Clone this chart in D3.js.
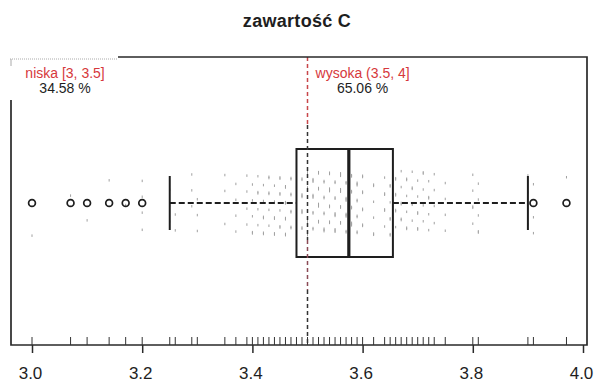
<!DOCTYPE html>
<html>
<head>
<meta charset="utf-8">
<script src="https://cdn.jsdelivr.net/npm/d3@7"></script>
<style>
  html, body { margin: 0; padding: 0; background: #fff; }
  svg { display: block; font-family: "Liberation Sans", Arial, Helvetica, sans-serif; }
</style>
</head>
<body>
<svg id="chart" width="595" height="385"></svg>
<script>
// Carbon content (zawartość C): boxplot summary, rug and jittered observations
const title = "zawartość C";
const axisTicks = [3.0, 3.2, 3.4, 3.6, 3.8, 4.0];
const threshold = 3.5;

// Five-number summary of the boxplot
const boxStats = { whiskerLow: 3.25, q1: 3.48, median: 3.575, q3: 3.655, whiskerHigh: 3.90 };
const outliers = [3.00, 3.07, 3.10, 3.14, 3.17, 3.20, 3.91, 3.97];

// Distinct measured values (rug) and how many observations share each value
const rugValues = [3.00, 3.07, 3.10, 3.14, 3.17, 3.20, 3.25, 3.26, 3.29, 3.30,
  3.35, 3.37, 3.39, 3.40, 3.41, 3.42, 3.43, 3.44, 3.45, 3.46, 3.47, 3.48, 3.49,
  3.50, 3.51, 3.52, 3.53, 3.54, 3.55, 3.56, 3.57, 3.58, 3.59, 3.60, 3.62, 3.64,
  3.65, 3.66, 3.67, 3.68, 3.69, 3.70, 3.71, 3.72, 3.73, 3.75, 3.80, 3.81, 3.90,
  3.91, 3.97];
const rugCounts = [1, 1, 1, 1, 1, 4, 3, 2, 3, 3,
  3, 4, 4, 5, 5, 6, 6, 7, 7, 8, 8, 9, 10,
  10, 10, 9, 9, 9, 10, 10, 10, 9, 9, 8, 6, 6,
  7, 7, 6, 6, 6, 6, 5, 5, 4, 4, 5, 5, 4,
  3, 1];

// Share of observations in each class
const classLabels = ["niska [3, 3.5]", "wysoka (3.5, 4]"];
const classShares = [34.58, 65.06];

const svg = d3.select("#chart");
const frame = { left: 11, right: 587, top: 57, bottom: 345 };

const x = d3.scaleLinear().domain([3, 4]).range([32, 583]);
// vertical position: box drawn around level 1
const y = d3.scaleLinear().domain([0, 2]).range([338, 68]);
const boxHalf = 0.4, capHalf = 0.2, jitterHalf = 0.24;

const ink = "#1e1e1e";

// title
svg.append("text")
  .attr("x", 297).attr("y", 27)
  .attr("text-anchor", "middle")
  .attr("font-size", 18).attr("font-weight", "bold")
  .attr("letter-spacing", 0.3)
  .attr("fill", ink)
  .text(title);

// jittered observations (faint marks)
const jitterPts = [];
rugValues.forEach((v, i) => {
  const c = rugCounts[i];
  for (let j = 0; j < c; j++) {
    const u = ((i * 0.618034 + j * 0.754877) % 1) * 2 - 1;
    jitterPts.push({ v, off: u * jitterHalf });
  }
});
svg.append("g").selectAll("rect").data(jitterPts).join("rect")
  .attr("x", d => x(d.v) - 0.5)
  .attr("y", d => y(1 + d.off) - 1)
  .attr("width", 1).attr("height", 2.5)
  .attr("fill", "#a0a0a0");

// whiskers (dashed)
const wg = svg.append("g");
wg.append("line")
  .attr("x1", x(boxStats.whiskerLow)).attr("x2", x(boxStats.q1))
  .attr("y1", y(1)).attr("y2", y(1))
  .attr("stroke", ink).attr("stroke-width", 2).attr("stroke-dasharray", "6,3");
wg.append("line")
  .attr("x1", x(boxStats.q3)).attr("x2", x(boxStats.whiskerHigh))
  .attr("y1", y(1)).attr("y2", y(1))
  .attr("stroke", ink).attr("stroke-width", 2).attr("stroke-dasharray", "6,3");
[boxStats.whiskerLow, boxStats.whiskerHigh].forEach(v => {
  wg.append("line")
    .attr("x1", x(v)).attr("x2", x(v))
    .attr("y1", y(1 + capHalf)).attr("y2", y(1 - capHalf))
    .attr("stroke", ink).attr("stroke-width", 2);
});

// box and median
svg.append("rect")
  .attr("x", x(boxStats.q1)).attr("y", y(1 + boxHalf))
  .attr("width", x(boxStats.q3) - x(boxStats.q1))
  .attr("height", y(1 - boxHalf) - y(1 + boxHalf))
  .attr("fill", "none").attr("stroke", ink).attr("stroke-width", 2);
svg.append("line")
  .attr("x1", x(boxStats.median)).attr("x2", x(boxStats.median))
  .attr("y1", y(1 + boxHalf)).attr("y2", y(1 - boxHalf))
  .attr("stroke", ink).attr("stroke-width", 3.2);

// outliers
svg.append("g").selectAll("circle").data(outliers).join("circle")
  .attr("cx", d => x(d)).attr("cy", y(1))
  .attr("r", 3.4)
  .attr("fill", "none").attr("stroke", ink).attr("stroke-width", 1.7);

// legend box behind the left class label
svg.append("rect")
  .attr("x", frame.left - 1).attr("y", frame.top + 1)
  .attr("width", 108).attr("height", 42)
  .attr("fill", "#fff");
svg.append("line")
  .attr("x1", frame.left - 1).attr("x2", frame.left + 107)
  .attr("y1", frame.top + 2).attr("y2", frame.top + 2)
  .attr("stroke", "#aaa").attr("stroke-width", 1).attr("stroke-dasharray", "1,1");

// threshold line at 3.5
const tx = x(threshold);
const thrSegments = [
  { y1: frame.top, y2: 125, color: "#c8464a" },
  { y1: 125, y2: 240, color: "#333" },
  { y1: 240, y2: 290, color: "#8a4a55" },
  { y1: 290, y2: frame.bottom, color: "#333" }
];
svg.append("g").selectAll("line").data(thrSegments).join("line")
  .attr("x1", tx).attr("x2", tx)
  .attr("y1", d => d.y1).attr("y2", d => d.y2)
  .attr("stroke", d => d.color).attr("stroke-width", 1.5)
  .attr("stroke-dasharray", "4,3");

// class labels
const labelPos = [x(3.06), x(3.6)];
classLabels.forEach((lab, i) => {
  svg.append("text")
    .attr("x", labelPos[i]).attr("y", 78)
    .attr("text-anchor", "middle").attr("font-size", 14)
    .attr("fill", "#d6383c").text(lab);
  svg.append("text")
    .attr("x", labelPos[i]).attr("y", 93)
    .attr("text-anchor", "middle").attr("font-size", 14)
    .attr("fill", ink).text(classShares[i].toFixed(2) + " %");
});

// plot frame
svg.append("path")
  .attr("d", `M${frame.left},${frame.top + 43}V${frame.bottom}H${frame.right}V${frame.top}H${frame.left + 107}`)
  .attr("fill", "none").attr("stroke", "#2a2a2a").attr("stroke-width", 1.7);
svg.append("line")
  .attr("x1", frame.left).attr("x2", frame.left)
  .attr("y1", frame.top + 2).attr("y2", frame.top + 9)
  .attr("stroke", "#aaa").attr("stroke-width", 1);

// rug
svg.append("g").selectAll("line").data(rugValues).join("line")
  .attr("x1", d => x(d)).attr("x2", d => x(d))
  .attr("y1", frame.bottom - 8).attr("y2", frame.bottom)
  .attr("stroke", "#333").attr("stroke-width", 1);

// x axis
const axis = d3.axisBottom(x)
  .tickValues(axisTicks)
  .tickFormat(d3.format(".1f"))
  .tickSize(8)
  .tickPadding(14);
const ag = svg.append("g")
  .attr("transform", `translate(0,${frame.bottom})`)
  .call(axis);
ag.select(".domain").remove();
ag.selectAll(".tick line").attr("stroke", "#2a2a2a").attr("stroke-width", 1.5);
ag.selectAll(".tick text")
  .attr("font-size", 17)
  .attr("font-family", "'Liberation Sans', Arial, sans-serif")
  .attr("fill", ink)
  .attr("dx", -2);
</script>
</body>
</html>
